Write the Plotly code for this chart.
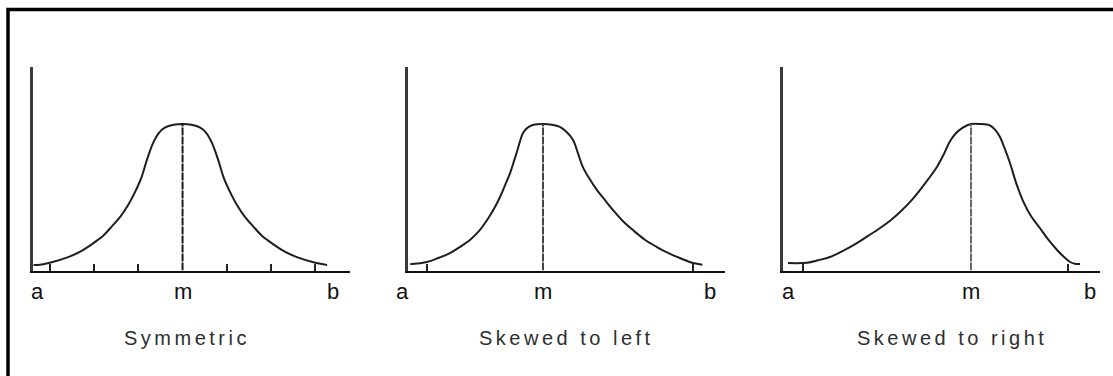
import plotly.graph_objects as go

# ---- data -------------------------------------------------------------
panel_titles = ["Symmetric", "Skewed to left", "Skewed to right"]
point_labels = ["a", "m", "b"]

# position of a, m, b on each horizontal axis
label_pos_sym = [0.0, 4.9, 10.0]
label_pos_left = [0.0, 4.56, 10.0]
label_pos_right = [0.0, 6.06, 10.0]

peak_height = 1.0

# density curves (x, relative height)
sym_x = [-0.15, 0.0, 0.4, 1.0, 1.4, 1.83, 2.2, 2.5, 2.8, 3.05, 3.3, 3.5, 3.7, 3.9,
         4.1, 4.3, 4.6, 4.9, 5.2, 5.5, 5.7, 5.9, 6.1, 6.3, 6.5, 6.75, 7.0, 7.3,
         7.6, 7.97, 8.4, 8.8, 9.4, 9.8]
sym_y = [0.038, 0.038, 0.053, 0.09, 0.125, 0.18, 0.235, 0.30, 0.37, 0.445, 0.54,
         0.63, 0.76, 0.87, 0.94, 0.975, 0.995, 1.0, 0.995, 0.975, 0.94, 0.87, 0.76,
         0.63, 0.54, 0.445, 0.37, 0.30, 0.235, 0.18, 0.125, 0.09, 0.053, 0.038]

left_x = [0.24, 0.29, 0.78, 1.15, 1.53, 1.85, 2.18, 2.48, 2.74, 2.96, 3.16, 3.33,
          3.49, 3.62, 3.73, 3.91, 4.06, 4.23, 4.56, 4.85, 5.11, 5.33, 5.54, 5.7,
          5.86, 6.08, 6.32, 6.58, 6.84, 7.15, 7.49, 7.88, 8.27, 8.65, 9.02, 9.45, 9.75]
left_y = [0.044, 0.044, 0.058, 0.085, 0.119, 0.16, 0.208, 0.27, 0.345, 0.42, 0.502,
          0.585, 0.666, 0.75, 0.823, 0.939, 0.975, 0.993, 1.0, 0.995, 0.98, 0.945,
          0.891, 0.80, 0.706, 0.625, 0.549, 0.48, 0.413, 0.34, 0.276, 0.21, 0.16,
          0.118, 0.085, 0.051, 0.04]

right_x = [0.0, 0.63, 1.0, 1.39, 1.85, 2.28, 2.65, 3.05, 3.4, 3.71, 4.05, 4.37, 4.65,
           4.93, 5.15, 5.36, 5.55, 5.79, 6.06, 6.35, 6.69, 6.88, 7.02, 7.18, 7.35,
           7.55, 7.78, 8.05, 8.34, 8.62, 8.91, 9.15, 9.34, 9.5, 9.67]
right_y = [0.051, 0.053, 0.07, 0.092, 0.137, 0.187, 0.236, 0.29, 0.343, 0.399, 0.47,
           0.549, 0.625, 0.706, 0.79, 0.88, 0.935, 0.975, 1.0, 1.0, 0.99, 0.955,
           0.911, 0.83, 0.734, 0.60, 0.475, 0.37, 0.29, 0.21, 0.14, 0.09, 0.058,
           0.046, 0.044]

# small marks along each horizontal axis
ticks_sym = [0.4, 1.9, 3.4, 6.4, 7.9, 9.4]
ticks_left = [0.78, 9.45]
ticks_right = [0.5, 9.27]

# ---- layout of the three panels --------------------------------------
W, H = 1113, 376
panels = [
    dict(x=sym_x, y=sym_y, pos=label_pos_sym, ticks=ticks_sym,
         dom=[33 / W, 350 / W], rng=[-0.169, 10.576], title=panel_titles[0], tx=187,
         mline="#1a1a1a"),
    dict(x=left_x, y=left_y, pos=label_pos_left, ticks=ticks_left,
         dom=[408 / W, 725 / W], rng=[0.163, 10.489], title=panel_titles[1], tx=566,
         mline="#444444"),
    dict(x=right_x, y=right_y, pos=label_pos_right, ticks=ticks_right,
         dom=[783 / W, 1100 / W], rng=[-0.166, 10.331], title=panel_titles[2], tx=952,
         mline="#666666"),
]

y_dom = [(H - 270.5) / H, (H - 67) / H]
y_rng = [0, (270.5 - 67) / 146.5]


def to_paper_x(val, dom, rng):
    """Map a value on a panel's x axis to paper coordinates."""
    return dom[0] + (val - rng[0]) / (rng[1] - rng[0]) * (dom[1] - dom[0])


fig = go.Figure()
annotations = []
for i, p in enumerate(panels, start=1):
    xa = "x" if i == 1 else f"x{i}"
    ya = "y" if i == 1 else f"y{i}"
    # curve
    fig.add_trace(go.Scatter(
        x=p["x"], y=p["y"], xaxis=xa, yaxis=ya, mode="lines",
        line=dict(color="#1e1e1e", width=2, shape="spline", smoothing=1.0),
        hoverinfo="skip", showlegend=False, cliponaxis=False))
    # line from the axis up to the mode
    m = p["pos"][1]
    fig.add_trace(go.Scatter(
        x=[m, m], y=[0, peak_height], xaxis=xa, yaxis=ya, mode="lines",
        line=dict(color=p["mline"], width=2, dash="8px,1px"),
        hoverinfo="skip", showlegend=False))

    xkey = "xaxis" if i == 1 else f"xaxis{i}"
    ykey = "yaxis" if i == 1 else f"yaxis{i}"
    fig.update_layout(**{
        xkey: dict(domain=p["dom"], range=p["rng"], anchor=ya,
                   showline=True, linecolor="#111111", linewidth=2,
                   showgrid=False, zeroline=False, showticklabels=False,
                   ticks="inside", ticklen=7, tickwidth=1.5, tickcolor="#222222",
                   tickmode="array", tickvals=p["ticks"]),
        ykey: dict(domain=y_dom, range=y_rng, anchor=xa,
                   showline=True, linecolor="#3a3a3a", linewidth=2.5,
                   showgrid=False, zeroline=False, showticklabels=False,
                   ticks=""),
    })

    for lab, pos in zip(point_labels, p["pos"]):
        annotations.append(dict(
            x=to_paper_x(pos, p["dom"], p["rng"]), y=(H - 291) / H,
            xref="paper", yref="paper", text=lab, showarrow=False,
            xanchor="center", yanchor="middle",
            font=dict(family="Liberation Sans, Arial", size=22, color="#111111")))

    annotations.append(dict(
        x=p["tx"] / W, y=(H - 338) / H, xref="paper", yref="paper",
        text=f'<span style="letter-spacing:3.5px">{p["title"]}</span>',
        showarrow=False, xanchor="center", yanchor="middle",
        font=dict(family="Liberation Sans, Arial", size=20, color="#2e2e2e")))

fig.update_layout(
    width=W, height=H,
    margin=dict(l=0, r=0, t=0, b=0),
    paper_bgcolor="white", plot_bgcolor="white",
    annotations=annotations,
    shapes=[dict(type="rect", xref="paper", yref="paper",
                 x0=8 / W, x1=1.05, y0=-0.05, y1=(H - 9.5) / H,
                 line=dict(color="#000000", width=3.5), layer="above")],
)

fig.write_html("out.html")
